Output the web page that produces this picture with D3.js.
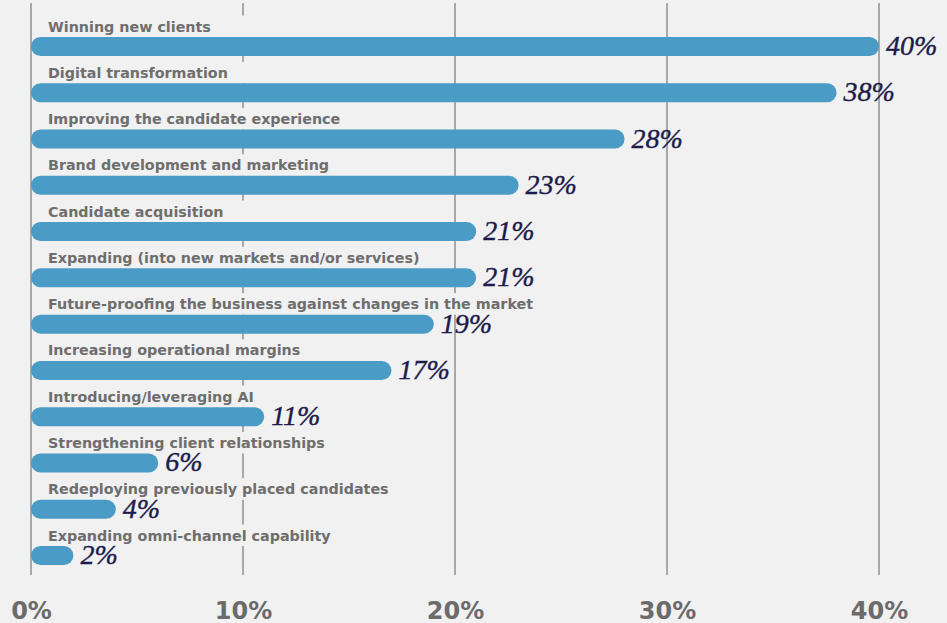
<!DOCTYPE html>
<html>
<head>
<meta charset="utf-8">
<script src="https://cdn.jsdelivr.net/npm/d3@7"></script>
<style>
  html, body { margin: 0; padding: 0; background: #f1f1f1; }
  svg { display: block; }
</style>
</head>
<body>
<svg id="chart" width="947" height="623"></svg>
<script>
// Business priorities, share of respondents (%)
const categories = [
  "Winning new clients",
  "Digital transformation",
  "Improving the candidate experience",
  "Brand development and marketing",
  "Candidate acquisition",
  "Expanding (into new markets and/or services)",
  "Future-proofing the business against changes in the market",
  "Increasing operational margins",
  "Introducing/leveraging AI",
  "Strengthening client relationships",
  "Redeploying previously placed candidates",
  "Expanding omni-channel capability"
];
const values = [40, 38, 28, 23, 21, 21, 19, 17, 11, 6, 4, 2];
const tickValues = [0, 10, 20, 30, 40];
const tickLabels = ["0%", "10%", "20%", "30%", "40%"];

const W = 947, H = 623;
const bg = "#f1f1f1";
const svg = d3.select("#chart");

svg.append("rect").attr("width", W).attr("height", H).attr("fill", bg);

const x = d3.scaleLinear().domain([0, 40]).range([31, 879]);
const y = d3.scalePoint().domain(categories).range([46.5, 555.5]);
const barH = 19;

// vertical gridlines
svg.append("g").selectAll("line").data(tickValues).join("line")
  .attr("x1", d => x(d)).attr("x2", d => x(d))
  .attr("y1", 3).attr("y2", 575)
  .attr("stroke", "#a8a8a8").attr("stroke-width", 2);

// category labels with a background plate
const labelX = 48;
const labels = svg.append("g").selectAll("g").data(categories).join("g");
labels.append("rect")
  .attr("fill", bg)
  .attr("y", d => y(d) - 31)
  .attr("height", 31 - barH / 2);
labels.append("text")
  .attr("x", labelX)
  .attr("y", d => y(d) - 15)
  .attr("font-family", "'DejaVu Sans', sans-serif")
  .attr("font-weight", "bold")
  .attr("font-size", 14.3)
  .attr("fill", "#6e6e6e")
  .text(d => d)
  .each(function () {
    const w = this.getComputedTextLength();
    d3.select(this.parentNode).select("rect")
      .attr("x", labelX - 3)
      .attr("width", Math.max(w + 8, 215));
  });

// bars
svg.append("g").selectAll("rect").data(categories).join("rect")
  .attr("x", x(0))
  .attr("y", d => y(d) - barH / 2)
  .attr("width", (d, i) => x(values[i]) - x(0))
  .attr("height", barH)
  .attr("rx", barH / 2).attr("ry", barH / 2)
  .attr("fill", "#4a9bc6");

// value labels
svg.append("g").selectAll("text").data(categories).join("text")
  .attr("x", (d, i) => x(values[i]) + 7)
  .attr("y", d => y(d) + 8.5)
  .attr("font-family", "'Liberation Serif', 'Times New Roman', serif")
  .attr("font-style", "italic")
  .attr("font-size", 28)
  .attr("fill", "#1c1b4b")
  .attr("stroke", "#1c1b4b")
  .attr("stroke-width", 0.4)
  .text((d, i) => values[i] + "%");

// x axis tick labels
const axis = d3.axisBottom(x).tickValues(tickValues)
  .tickFormat((d, i) => tickLabels[i]).tickSize(0).tickPadding(0);
const axisG = svg.append("g").attr("transform", "translate(0,602)").call(axis);
axisG.select(".domain").remove();
axisG.selectAll("text")
  .attr("dy", 0).attr("y", 17)
  .attr("font-family", "'DejaVu Sans', sans-serif")
  .attr("font-weight", "bold")
  .attr("font-size", 24)
  .attr("fill", "#6b6b6b");
</script>
</body>
</html>
